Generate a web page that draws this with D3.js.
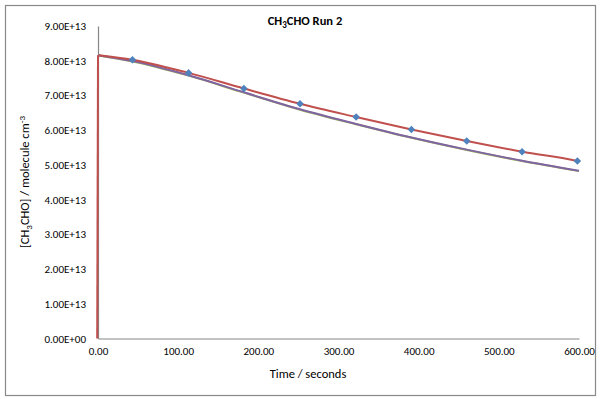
<!DOCTYPE html>
<html>
<head>
<meta charset="utf-8">
<script src="https://cdn.jsdelivr.net/npm/d3@7"></script>
<style>
  body { margin: 0; background: #fff; }
  text { font-family: Carlito, Lato, "Open Sans", sans-serif; fill: #000; }
</style>
</head>
<body>
<svg id="chart" width="601" height="399"></svg>
<script>
// measured points (diamonds)
var obsTime = [43, 113, 182, 252, 322, 391, 460, 529, 598];
var obsConc = [8.03e13, 7.65e13, 7.20e13, 6.76e13, 6.38e13, 6.02e13, 5.69e13, 5.38e13, 5.11e13];

// fitted model (red), starts with the vertical jump at t = 0
var fitTime = [0, 1, 43, 113, 182, 252, 322, 391, 460, 529, 598, 600];
var fitConc = [0, 8.16e13, 8.03e13, 7.65e13, 7.20e13, 6.76e13, 6.38e13, 6.02e13, 5.69e13, 5.38e13, 5.11e13, 5.10e13];

// second model (purple) and third model (green, under the purple one)
var modTime = [0, 43, 113, 182, 252, 322, 391, 460, 529, 600];
var purpleConc = [8.16e13, 7.99e13, 7.58e13, 7.09e13, 6.60e13, 6.18e13, 5.79e13, 5.44e13, 5.12e13, 4.83e13];
var greenConc = [8.15e13, 7.98e13, 7.57e13, 7.08e13, 6.59e13, 6.17e13, 5.78e13, 5.43e13, 5.11e13, 4.82e13];

var xTicks = [0, 100, 200, 300, 400, 500, 600];
var yTicks = [0, 1e13, 2e13, 3e13, 4e13, 5e13, 6e13, 7e13, 8e13, 9e13];

var svg = d3.select("#chart");

svg.append("rect")
  .attr("x", 5.5).attr("y", 5.5)
  .attr("width", 590).attr("height", 390)
  .attr("fill", "#fff")
  .attr("stroke", "#898989")
  .attr("stroke-width", 1.2);

var x = d3.scaleLinear().domain([0, 600]).range([98, 579]);
var y = d3.scaleLinear().domain([0, 9e13]).range([338.5, 26]);

var fmtY = function (d) {
  if (d === 0) return "0.00E+00";
  var e = Math.floor(Math.log10(d));
  return (d / Math.pow(10, e)).toFixed(2) + "E+" + e;
};

// y axis
var yAxis = svg.append("g")
  .attr("transform", "translate(98,0)")
  .call(d3.axisLeft(y).tickValues(yTicks).tickSize(0).tickPadding(12).tickFormat(fmtY));
yAxis.select(".domain").attr("stroke", "#868686").attr("stroke-width", 1.2);
yAxis.selectAll("text").style("font-size", "11px").style("font-family", "Carlito, Lato, 'Open Sans', sans-serif");

// x axis
var xAxis = svg.append("g")
  .attr("transform", "translate(0,338.5)")
  .call(d3.axisBottom(x).tickValues(xTicks).tickSize(0).tickPadding(9).tickFormat(d3.format(".2f")));
xAxis.select(".domain").attr("stroke", "#868686").attr("stroke-width", 1.2);
xAxis.selectAll("text").style("font-size", "11px").style("font-family", "Carlito, Lato, 'Open Sans', sans-serif");

var line = d3.line()
  .x(function (d) { return x(d[0]); })
  .y(function (d) { return y(d[1]); })
  .curve(d3.curveMonotoneX);

var vline = d3.line()
  .x(function (d) { return x(d[0]); })
  .y(function (d) { return y(d[1]); });

var greenData = d3.zip(modTime, greenConc);
var purpleData = d3.zip(modTime, purpleConc);
var fitData = d3.zip(fitTime, fitConc);

svg.append("path")
  .datum(greenData)
  .attr("d", line)
  .attr("fill", "none")
  .attr("stroke", "#9BBB59")
  .attr("stroke-width", 2);

svg.append("path")
  .datum(purpleData)
  .attr("d", line)
  .attr("fill", "none")
  .attr("stroke", "#8064A2")
  .attr("stroke-width", 2);

// red: vertical jump then curve
svg.append("path")
  .datum(fitData.slice(0, 2))
  .attr("d", vline)
  .attr("transform", "translate(-0.8,0)")
  .attr("fill", "none")
  .attr("stroke", "#C0504D")
  .attr("stroke-width", 2);

svg.append("path")
  .datum(fitData.slice(1))
  .attr("d", line)
  .attr("fill", "none")
  .attr("stroke", "#C0504D")
  .attr("stroke-width", 2);

svg.selectAll(".pt")
  .data(d3.zip(obsTime, obsConc))
  .enter().append("path")
  .attr("class", "pt")
  .attr("d", d3.symbol().type(d3.symbolDiamond2).size(36))
  .attr("transform", function (d) { return "translate(" + x(d[0]) + "," + y(d[1]) + ")"; })
  .attr("fill", "#4F81BD");

// title
var title = svg.append("text")
  .attr("x", 305).attr("y", 25)
  .attr("text-anchor", "middle")
  .style("font-size", "12.5px")
  .style("font-weight", "bold");
title.append("tspan").text("CH");
title.append("tspan").attr("dy", 3).style("font-size", "9px").text("3");
title.append("tspan").attr("dy", -3).text("CHO Run 2");

// x title
svg.append("text")
  .attr("x", 308).attr("y", 378)
  .attr("text-anchor", "middle")
  .style("font-size", "12.5px")
  .text("Time / seconds");

// y title
var yt = svg.append("text")
  .attr("transform", "translate(29,182) rotate(-90)")
  .attr("text-anchor", "middle")
  .style("font-size", "12.5px");
yt.append("tspan").text("[CH");
yt.append("tspan").attr("dy", 3).style("font-size", "9px").text("3");
yt.append("tspan").attr("dy", -3).text("CHO] / molecule cm");
yt.append("tspan").attr("dy", -4).style("font-size", "9px").text("-3");
</script>
</body>
</html>
